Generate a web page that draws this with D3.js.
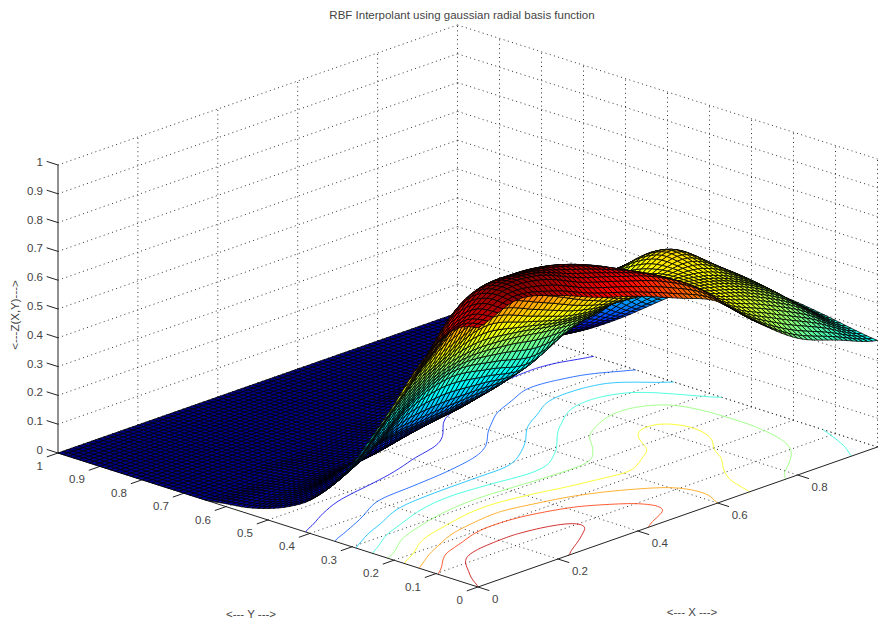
<!DOCTYPE html>
<html>
<head>
<meta charset="utf-8">
<script src="https://cdn.jsdelivr.net/npm/d3@7"></script>
<style>
  body { margin: 0; background: #fff; }
  svg { display: block; }
  text { font-family: "Liberation Sans", Arial, sans-serif; font-size: 11.5px; fill: #444; }
  .grid { fill: none; stroke: #333; stroke-width: 1; stroke-dasharray: 1 3.4; }
  .axis { stroke: #222; stroke-width: 1; fill: none; }
  .cell { stroke: #000; stroke-width: 0.8; stroke-linejoin: round; }
  .level { fill: none; stroke-width: 1; stroke-opacity: 0.8; }
</style>
</head>
<body>
<div class="svg-container"></div>
<script>
const xTicks = [0, 0.2, 0.4, 0.6, 0.8];
const yTicks = [0, 0.1, 0.2, 0.3, 0.4, 0.5, 0.6, 0.7, 0.8, 0.9, 1];
const zTicks = [0, 0.1, 0.2, 0.3, 0.4, 0.5, 0.6, 0.7, 0.8, 0.9, 1];
const contourLevels = [0.1, 0.2, 0.3, 0.4, 0.5, 0.6, 0.7, 0.8, 0.9];

// heights, one array per x, y runs 0 to 1 in steps of 0.05
const gridX = [0, 0.1, 0.2, 0.3, 0.4, 0.5, 0.6, 0.7, 0.8, 0.9, 1];
const gridY = [0, .05, .1, .15, .2, .25, .3, .35, .4, .45, .5, .55, .6, .65, .7, .75, .8, .85, .9, .95, 1];
const zAtX00 = [.90, .875, .795, .68, .54, .41, .285, .19, .115, .07, .04, .02, .01, 0, 0, 0, 0, 0, 0, 0, 0];
const zAtX01 = [.95, .96, .93, .84, .68, .555, .415, .27, .17, .11, .06, .03, .015, 0, 0, 0, 0, 0, 0, 0, 0];
const zAtX02 = [.915, .96, .945, .885, .79, .63, .50, .375, .25, .17, .085, .04, .02, .01, 0, 0, 0, 0, 0, 0, 0];
const zAtX03 = [.86, .905, .925, .875, .795, .675, .535, .42, .27, .185, .11, .05, .025, .01, 0, 0, 0, 0, 0, 0, 0];
const zAtX04 = [.815, .86, .875, .83, .745, .63, .53, .40, .28, .20, .14, .085, .04, .02, .005, 0, 0, 0, 0, 0, 0];
const zAtX05 = [.76, .81, .80, .745, .675, .585, .51, .375, .295, .23, .165, .115, .07, .04, .015, 0, 0, 0, 0, 0, 0];
const zAtX06 = [.70, .725, .71, .67, .62, .575, .51, .45, .38, .31, .25, .195, .145, .095, .05, .02, 0, 0, 0, 0, 0];
const zAtX07 = [.578, .595, .615, .625, .625, .61, .575, .54, .50, .43, .355, .27, .21, .13, .08, .035, .01, 0, 0, 0, 0];
const zAtX08 = [.475, .52, .56, .585, .60, .625, .64, .61, .55, .495, .44, .35, .26, .19, .10, .05, .02, .005, 0, 0, 0];
const zAtX09 = [.42, .455, .49, .515, .53, .54, .54, .535, .515, .47, .41, .335, .245, .17, .105, .055, .025, .01, 0, 0, 0];
const zAtX10 = [.37, .38, .393, .405, .415, .42, .42, .41, .38, .335, .285, .23, .175, .125, .08, .045, .02, .01, 0, 0, 0];
const zColumns = [zAtX00, zAtX01, zAtX02, zAtX03, zAtX04, zAtX05, zAtX06, zAtX07, zAtX08, zAtX09, zAtX10];

const width = 883, height = 622;
const meshCells = 80;
const contourCells = 200;

// oblique projection, one scale per axis and screen direction
const xToLeft = d3.scaleLinear().domain([0, 1]).range([0, 399.5]);
const xToTop = d3.scaleLinear().domain([0, 1]).range([0, -140]);
const yToLeft = d3.scaleLinear().domain([0, 1]).range([0, -420]);
const yToTop = d3.scaleLinear().domain([0, 1]).range([0, -134]);
const zToTop = d3.scaleLinear().domain([0, 1]).range([0, -288]);

function project(x, y, z) {
  return [478 + xToLeft(x) + yToLeft(y), 587 + xToTop(x) + yToTop(y) + zToTop(z)];
}

// jet colormap
const jet = d3.scaleLinear()
  .domain([0, 0.125, 0.375, 0.625, 0.875, 1].map(function(t) {return t * 0.97}))
  .range(["#00008f", "#0000ff", "#00ffff", "#ffff00", "#ff0000", "#800000"])
  .clamp(true);

function catmull(p0, p1, p2, p3, t) {
  return 0.5 * (2 * p1 + (p2 - p0) * t + (2 * p0 - 5 * p1 + 4 * p2 - p3) * t * t + (3 * p1 - p0 - 3 * p2 + p3) * t * t * t);
}

function sampleLine(values, u) {
  var last = values.length - 1;
  var pos = u * last;
  var i = Math.min(Math.floor(pos), last - 1);
  var t = pos - i;
  return catmull(values[Math.max(i - 1, 0)], values[i], values[i + 1], values[Math.min(i + 2, last)], t);
}

// the read heights are a coarse table, the drawn mesh is a spline through them
function heightAt(u, v) {
  var across = zColumns.map(function(col) {return sampleLine(col, v)});
  return Math.max(0, sampleLine(across, u));
}

function sampleGrid(cells) {
  var size = cells + 1, out = new Array(size * size);
  for (var j = 0; j < size; j++) {
    for (var i = 0; i < size; i++) {
      out[j * size + i] = heightAt(i / cells, j / cells);
    }
  }
  return out;
}

const n = meshCells + 1;
const mesh = sampleGrid(meshCells);

const svg = d3.select(".svg-container").append("svg")
  .attr("width", width)
  .attr("height", height);

const line3d = d3.line();
const smooth3d = d3.line().curve(d3.curveBasis);

function gridLine(a, b) {
  svg.append("path").attr("class", "grid").attr("d", line3d([project(a[0], a[1], a[2]), project(b[0], b[1], b[2])]));
}

// back walls and floor
zTicks.forEach(function(z) {
  gridLine([0, 1, z], [1, 1, z]);
  gridLine([1, 1, z], [1, 0, z]);
});
xTicks.concat([1]).forEach(function(x) {
  if (x > 0) {
    gridLine([x, 1, 0], [x, 1, 1]);
    gridLine([x, 0, 0], [x, 1, 0]);
  }
});
yTicks.forEach(function(y) {
  if (y < 1) gridLine([1, y, 0], [1, y, 1]);
  if (y > 0) gridLine([0, y, 0], [1, y, 0]);
});

// contours on the floor, border segments of the d3 polygons are dropped
const cn = contourCells + 1;
const contourMaker = d3.contours().size([cn, cn]).thresholds(contourLevels);

function toData(p) {
  return [
    Math.min(1, Math.max(0, (p[0] - 0.5) / (cn - 1))),
    Math.min(1, Math.max(0, (p[1] - 0.5) / (cn - 1)))
  ];
}

function onBorder(p, q) {
  return (p[0] <= 0 && q[0] <= 0) || (p[0] >= cn && q[0] >= cn) || (p[1] <= 0 && q[1] <= 0) || (p[1] >= cn && q[1] >= cn);
}

contourMaker(sampleGrid(contourCells)).forEach(function(c) {
  var pieces = [];
  c.coordinates.forEach(function(poly) {
    poly.forEach(function(ring) {
      var piece = [];
      for (var k = 1; k < ring.length; k++) {
        if (onBorder(ring[k - 1], ring[k])) {
          if (piece.length) pieces.push(piece);
          piece = [];
        } else {
          if (!piece.length) piece.push(ring[k - 1]);
          piece.push(ring[k]);
        }
      }
      if (piece.length) pieces.push(piece);
    });
  });
  pieces.forEach(function(piece) {
    var thinned = piece.filter(function(p, idx) {return idx % 4 === 0 || idx === piece.length - 1});
    svg.append("path")
      .attr("class", "level")
      .attr("stroke", jet(c.value))
      .attr("d", smooth3d(thinned.map(function(p) {
        var d = toData(p);
        return project(d[0], d[1], 0);
      })));
  });
});

// axes and ticks
function axisLine(a, b) {
  svg.append("path").attr("class", "axis").attr("d", line3d([project(a[0], a[1], a[2]), project(b[0], b[1], b[2])]));
}
axisLine([0, 0, 0], [1, 0, 0]);
axisLine([0, 0, 0], [0, 1, 0]);
axisLine([0, 1, 0], [0, 1, 1]);

xTicks.forEach(function(x) {
  axisLine([x, 0, 0], [x, -0.027, 0]);
  var p = project(x, 0, 0);
  svg.append("text").attr("x", p[0] + 14).attr("y", p[1] + 16).text(x);
});
yTicks.forEach(function(y) {
  axisLine([0, y, 0], [-0.028, y, 0]);
  var p = project(0, y, 0);
  svg.append("text").attr("x", p[0] - 15).attr("y", p[1] + 17).attr("text-anchor", "end").text(y);
});
zTicks.forEach(function(z) {
  axisLine([0, 1, z], [0, 1.027, z]);
  var p = project(0, 1, z);
  svg.append("text").attr("x", p[0] - 15).attr("y", p[1] + 1).attr("text-anchor", "end").text(z);
});

// surface, painted from the far corner to the near one
const cells = svg.append("g");
for (var row = meshCells - 1; row >= 0; row--) {
  for (var col = meshCells - 1; col >= 0; col--) {
    var z00 = mesh[row * n + col], z10 = mesh[row * n + col + 1],
        z11 = mesh[(row + 1) * n + col + 1], z01 = mesh[(row + 1) * n + col];
    var x0 = col / meshCells, x1 = (col + 1) / meshCells,
        y0 = row / meshCells, y1 = (row + 1) / meshCells;
    cells.append("path")
      .attr("class", "cell")
      .attr("fill", jet((z00 + z10 + z11 + z01) / 4))
      .attr("d", line3d([project(x0, y0, z00), project(x1, y0, z10), project(x1, y1, z11), project(x0, y1, z01)]) + "Z");
  }
}

// titles
svg.append("text").attr("x", 462).attr("y", 19).attr("text-anchor", "middle")
  .text("RBF Interpolant using gaussian radial basis function");
svg.append("text").attr("x", 692).attr("y", 616).attr("text-anchor", "middle").text("<--- X --->");
svg.append("text").attr("x", 251).attr("y", 618).attr("text-anchor", "middle").text("<--- Y --->");
svg.append("text").attr("text-anchor", "middle")
  .attr("transform", "translate(19,315) rotate(-90)")
  .text("<---Z(X,Y)--->");
</script>
</body>
</html>
